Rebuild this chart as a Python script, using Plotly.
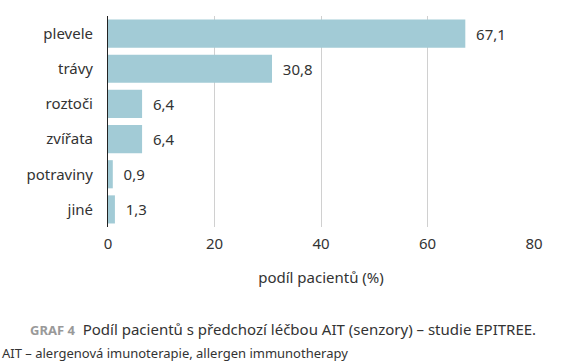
import plotly.graph_objects as go

categories = ["plevele", "trávy", "roztoči", "zvířata", "potraviny", "jiné"]
values = [67.1, 30.8, 6.4, 6.4, 0.9, 1.3]
labels = ["67,1", "30,8", "6,4", "6,4", "0,9", "1,3"]
x_ticks = [0, 20, 40, 60, 80]

FONT = "Noto Sans"
TXT = "#333333"

fig = go.Figure(go.Bar(
    y=categories, x=values, orientation="h",
    marker=dict(color="#a2cbd6", line=dict(width=0)),
    text=labels, texttemplate="  %{text}", textposition="outside", cliponaxis=False,
    textfont=dict(family=FONT, size=15, color=TXT),
))

fig.update_layout(
    width=563, height=362,
    margin=dict(l=108, r=29, t=16, b=135, autoexpand=False),
    paper_bgcolor="white", plot_bgcolor="white",
    bargap=0.2, showlegend=False,
    font=dict(family=FONT, size=15, color=TXT),
    xaxis=dict(range=[0, 80], tickvals=x_ticks, ticktext=[str(t) for t in x_ticks],
               showgrid=True, gridcolor="#d0d0d0", gridwidth=1, zeroline=False,
               showline=False, ticks="", automargin=False, ticklabelstandoff=6,
               tickfont=dict(size=15, color=TXT),
               title=dict(text="podíl pacientů (%)", font=dict(size=15, color=TXT), standoff=20)),
    yaxis=dict(autorange="reversed", showline=True, linecolor="#222222", linewidth=1,
               ticks="", ticklabelstandoff=11, automargin=False, tickfont=dict(size=15, color=TXT),
               showgrid=False, zeroline=False),
    annotations=[
        dict(xref="paper", yref="paper", x=-0.188, y=-0.483, xanchor="left", yanchor="middle",
             showarrow=False, align="left",
             text="<span style='font-size:13px;color:#999999'><b>GRAF 4</b></span>  Podíl pacientů s předchozí léčbou AIT (senzory) – studie EPITREE.",
             font=dict(family=FONT, size=15, color=TXT)),
        dict(xref="paper", yref="paper", x=-0.253, y=-0.597, xanchor="left", yanchor="middle",
             showarrow=False, align="left",
             text="AIT – alergenová imunoterapie, allergen immunotherapy",
             font=dict(family=FONT, size=13, color=TXT)),
    ],
)

fig.write_html("out.html", config={"displayModeBar": False},
               post_script="document.body.style.margin='0';")
